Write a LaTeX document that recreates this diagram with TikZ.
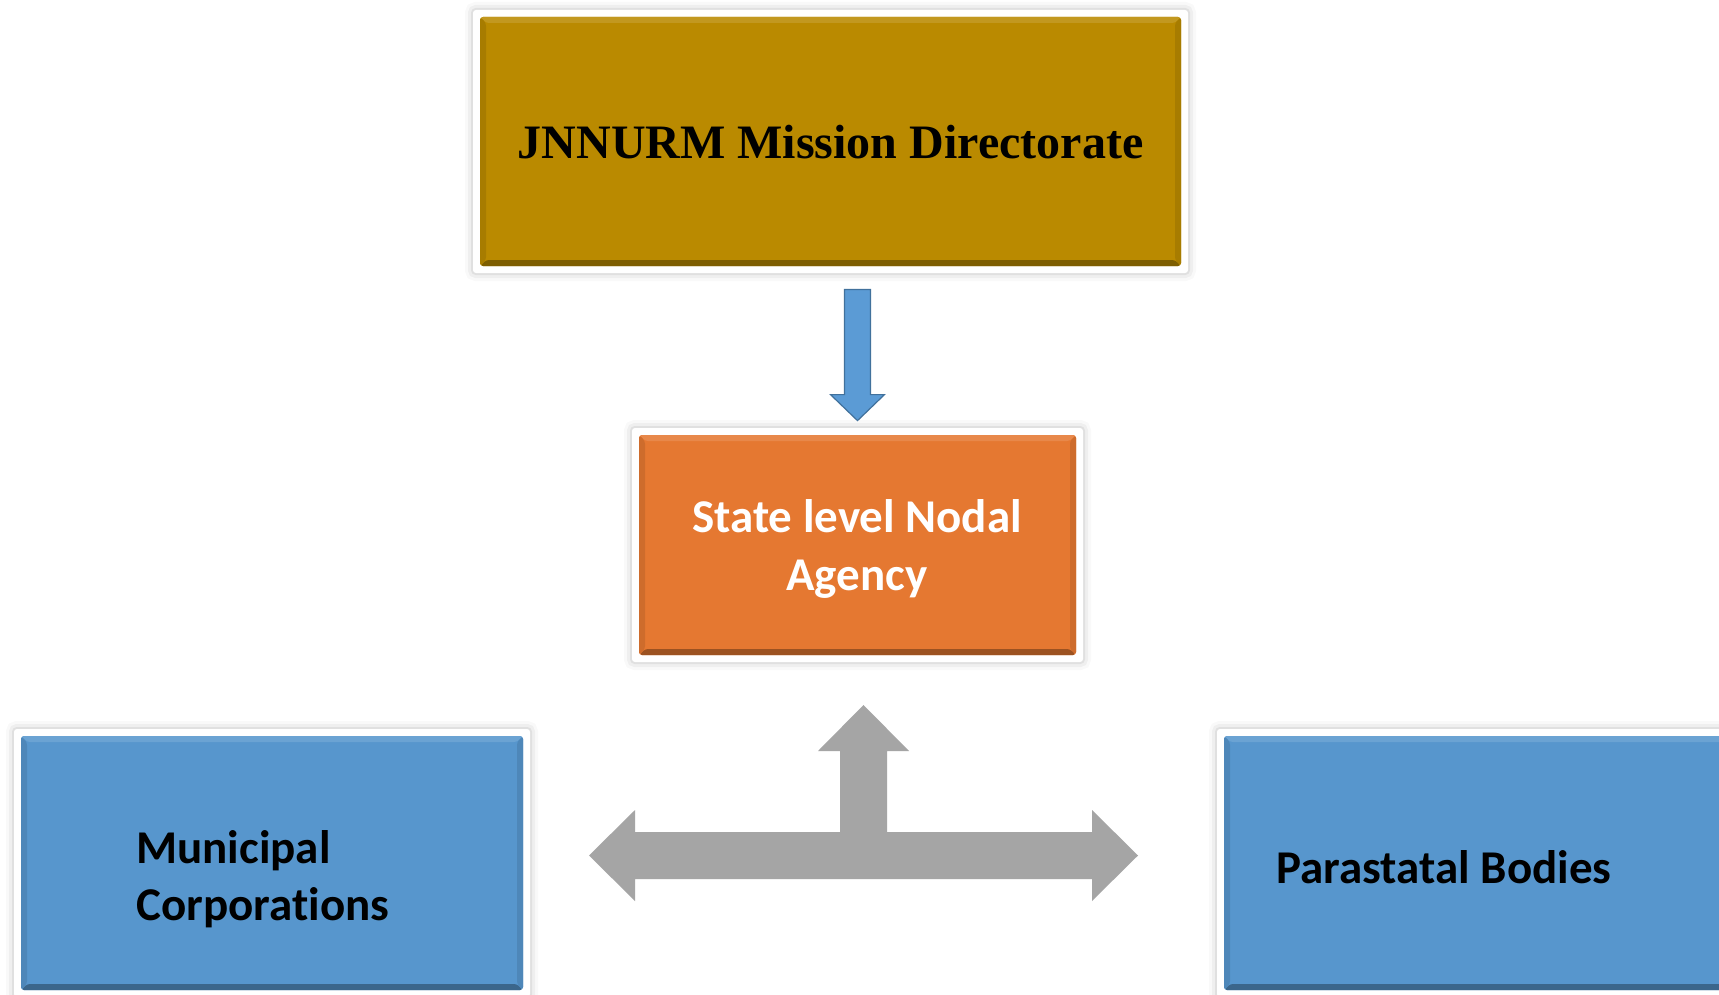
\documentclass[tikz,border=0pt]{standalone}
\usepackage{fontspec}
\usetikzlibrary{calc}
\newfontfamily\timesfont{Liberation Serif}
\newfontfamily\calfont[Ligatures=NoCommon]{Carlito}
\definecolor{goldc}{RGB}{186,138,0}
\definecolor{orangec}{RGB}{229,120,49}
\definecolor{bluec}{RGB}{87,150,205}
\definecolor{arrowblue}{RGB}{91,155,213}
\definecolor{arrowblueedge}{RGB}{65,113,156}
\definecolor{grayc}{RGB}{165,165,165}
\tikzset{
  card/.style={rectangle, inner sep=0pt, fill=white, rounded corners=1.5pt,
    preaction={draw=black, line width=8pt, opacity=0.025},
    preaction={draw=black, line width=5pt, opacity=0.04},
    preaction={draw=black, line width=2pt, opacity=0.06},
    path picture={
      \path ([shift={(3.5pt,-3.5pt)}]path picture bounding box.north west) coordinate (i1)
            ([shift={(-3.5pt,3.5pt)}]path picture bounding box.south east) coordinate (i3);
      \fill[#1] (i1) rectangle (i3);
      \fill[#1!88!white] (i1) -- (i1 -| i3) -- ($(i1 -| i3)+(-3pt,-3pt)$) -- ($(i1)+(3pt,-3pt)$) -- cycle;
      \fill[#1!68!black] (i3) -- (i3 -| i1) -- ($(i3 -| i1)+(3pt,3pt)$) -- ($(i3)+(-3pt,3pt)$) -- cycle;
      \fill[#1!90!black] (i1) -- (i1 |- i3) -- ($(i1 |- i3)+(3pt,3pt)$) -- ($(i1)+(3pt,-3pt)$) -- cycle;
      \fill[#1!90!black] (i3) -- (i3 |- i1) -- ($(i3 |- i1)+(-3pt,-3pt)$) -- ($(i3)+(-3pt,3pt)$) -- cycle;
    }},
  serifbold/.style={font=\timesfont\bfseries\fontsize{24pt}{29pt}\selectfont, inner sep=0pt},
  calbold/.style={font=\calfont\bfseries\fontsize{23.5pt}{29pt}\selectfont, inner sep=0pt},
  bluearrow/.style={fill=arrowblue, draw=arrowblueedge, line width=0.6pt, line join=miter},
  grayarrow/.style={fill=grayc, draw=none},
}
\begin{document}
\begin{tikzpicture}[x=0.5pt, y=-0.5pt]
\useasboundingbox (0,0) rectangle (1719,995);
\fill[white] (0,0) rectangle (1719,995);

% boxes
\node[card=goldc, minimum width=357.5pt, minimum height=131.5pt] (top) at (830.5,141.5) {};
\node[card=orangec, minimum width=225.5pt, minimum height=117pt] (sna) at (857.5,545) {};
\node[card=bluec, minimum width=258pt, minimum height=134pt] (mc) at (272,863) {};
\node[card=bluec, minimum width=276.5pt, minimum height=134pt] (pb) at (1493.5,863) {};

% texts
\node[serifbold, anchor=base, text=black] (toptxt) at (830.5,158) {JNNURM Mission Directorate};
\node[calbold, anchor=base, text=white] (snatxt1) at (857,532) {State level Nodal};
\node[calbold, anchor=base, text=white] (snatxt2) at (857,590) {Agency};
\node[calbold, anchor=base west, text=black] (mctxt1) at (136,863) {Municipal};
\node[calbold, anchor=base west, text=black] (mctxt2) at (136,920) {Corporations};
\node[calbold, anchor=base west, text=black] (pbtxt) at (1276,883) {Parastatal Bodies};

% blue down arrow from top to sna
\coordinate (a1) at (top.south -| sna.north);
\coordinate (a2) at ($(sna.north)+(0,3.5pt)$);
\draw[bluearrow] ($(a1)+(-6.5pt,-8pt)$) -- ($(a1)+(6.5pt,-8pt)$) -- ($(a2)+(6.5pt,13pt)$)
  -- ($(a2)+(13.5pt,13pt)$) -- (a2) -- ($(a2)+(-13.5pt,13pt)$) -- ($(a2)+(-6.5pt,13pt)$) -- cycle;

% gray three-way arrow
\coordinate (hub) at (863.5,855.5);
\begin{scope}[shift={(hub)}]
\fill[grayarrow] (-274.5,0) -- (-228.5,-45.5) -- (-228.5,-23.5) -- (-23.5,-23.5) -- (-23.5,-104.5)
  -- (-45.5,-104.5) -- (0,-150.5) -- (45.5,-104.5) -- (23.5,-104.5) -- (23.5,-23.5)
  -- (228.5,-23.5) -- (228.5,-45.5) -- (274.5,0) -- (228.5,45.5) -- (228.5,23.5)
  -- (-228.5,23.5) -- (-228.5,45.5) -- cycle;
\end{scope}
\end{tikzpicture}
\end{document}
